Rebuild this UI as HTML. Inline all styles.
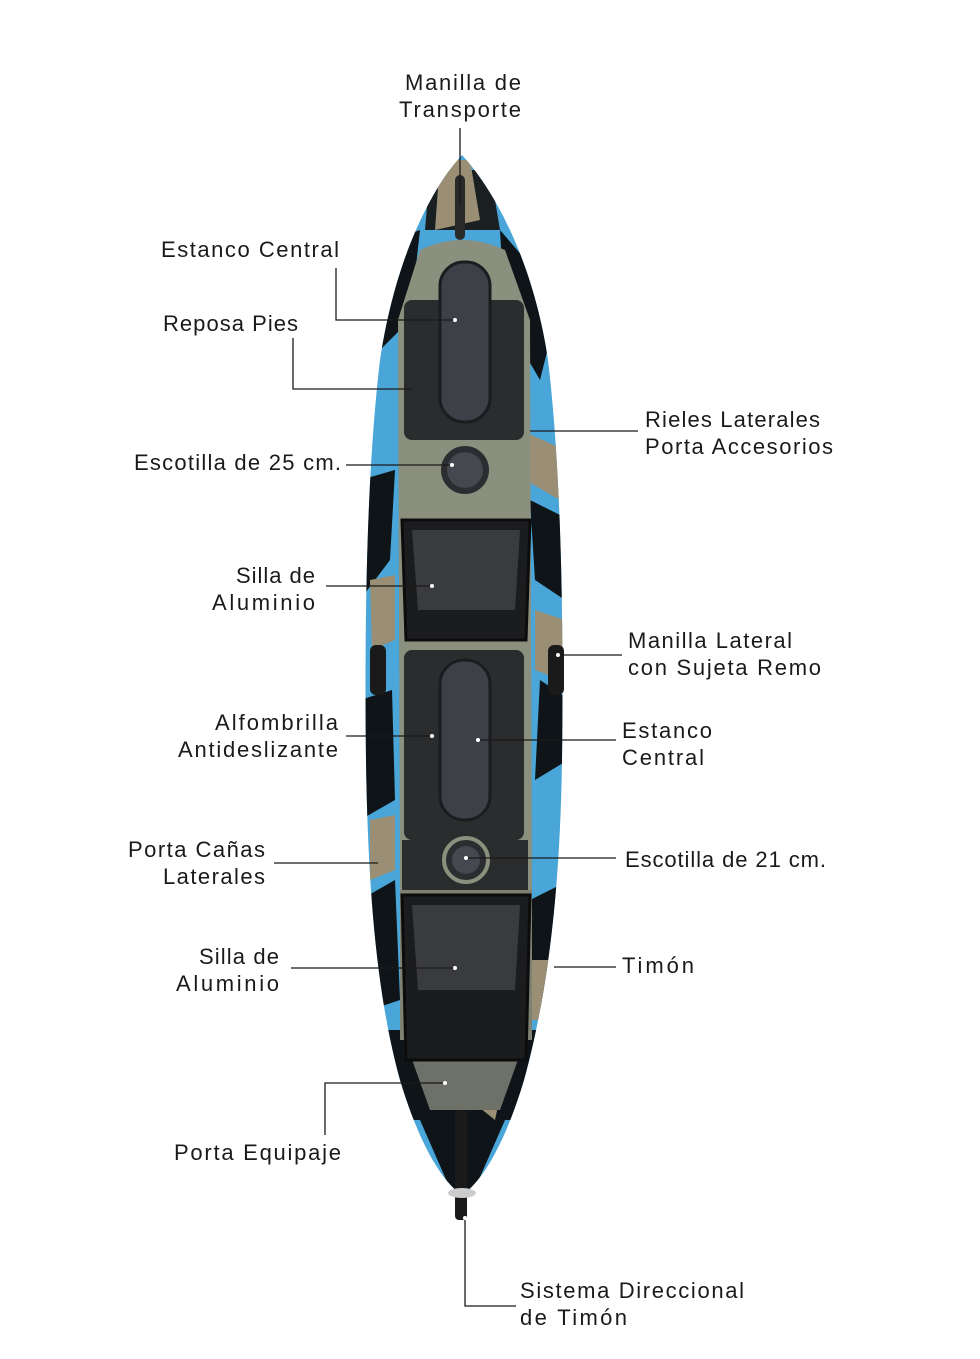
<!DOCTYPE html>
<html><head><meta charset="utf-8"><style>
html,body{margin:0;padding:0;background:#fff;}
svg{display:block}
text{font-family:"Liberation Sans",sans-serif;font-size:22px;fill:#1a1a1a}
</style></head><body>
<svg width="980" height="1359" viewBox="0 0 980 1359" xmlns="http://www.w3.org/2000/svg">
<defs>
<clipPath id="hull"><path d="M462,155 C430,190 395,260 380,360 C368,460 364,600 366,760 C368,900 378,1000 400,1080 C418,1140 440,1180 462,1195 C484,1180 506,1140 524,1080 C546,1000 560,900 562,760 C564,600 560,460 548,360 C533,260 494,190 462,155Z"/></clipPath>
</defs>
<g clip-path="url(#hull)">
<rect x="350" y="150" width="230" height="1060" fill="#4aa6d8"/>
<g fill="#0e1418">
<path d="M365,250 L420,230 L410,320 L370,360Z"/>
<path d="M500,230 L560,300 L540,380 L505,320Z"/>
<path d="M360,480 L395,470 L390,560 L360,600Z"/>
<path d="M530,500 L570,520 L565,600 L535,580Z"/>
<path d="M360,700 L392,690 L395,800 L360,820Z"/>
<path d="M540,680 L570,700 L568,760 L535,780Z"/>
<path d="M360,900 L395,880 L400,1000 L370,1010Z"/>
<path d="M530,900 L570,880 L565,1000 L525,1010Z"/>
<path d="M380,1030 L540,1030 L520,1120 L400,1120Z"/>
<path d="M420,1120 L505,1120 L470,1200 L455,1200Z"/>
<path d="M430,170 L490,170 L500,230 L425,230Z" fill="#1a1f22"/>
</g>
<g fill="#9a8f74">
<path d="M440,160 L470,160 L480,220 L435,230Z"/>
<path d="M520,430 L565,450 L560,500 L525,480Z"/>
<path d="M370,580 L395,575 L395,640 L372,650Z"/>
<path d="M535,610 L565,620 L562,680 L535,670Z"/>
<path d="M370,820 L395,815 L395,870 L370,880Z"/>
<path d="M530,960 L560,960 L555,1020 L530,1020Z"/>
<path d="M470,1040 L510,1050 L495,1120 L470,1100Z"/>
</g>
</g>
<path d="M420,250 Q462,230 505,250 L530,320 L532,890 L400,890 L398,320Z" fill="#8b8f7d"/>
<rect x="400" y="890" width="132" height="150" fill="#7f8172"/>
<path d="M405,1040 L525,1040 L500,1110 L430,1110Z" fill="#6e7168"/>
<rect x="404" y="300" width="120" height="140" rx="8" fill="#2a2c2e"/>
<rect x="404" y="650" width="120" height="190" rx="8" fill="#2a2c2e"/>
<rect x="402" y="840" width="126" height="50" fill="#2a2c2e"/>
<rect x="440" y="262" width="50" height="160" rx="24" fill="#3d4047" stroke="#1b1c1f" stroke-width="3"/>
<rect x="440" y="660" width="50" height="160" rx="24" fill="#3d4047" stroke="#1b1c1f" stroke-width="3"/>
<circle cx="465" cy="470" r="26" fill="#2b2d31" stroke="#8b8f7d" stroke-width="4"/>
<circle cx="465" cy="470" r="18" fill="#45484f"/>
<circle cx="466" cy="860" r="22" fill="#2b2d31" stroke="#8b8f7d" stroke-width="4"/>
<circle cx="466" cy="860" r="14" fill="#45484f"/>
<path d="M402,520 L530,520 L526,640 L406,640Z" fill="#1b1c1e" stroke="#0c0c0d" stroke-width="3"/>
<path d="M412,530 L520,530 L515,610 L418,610Z" fill="#3a3b3e"/>
<path d="M402,895 L530,895 L526,1060 L406,1060Z" fill="#1b1c1e" stroke="#0c0c0d" stroke-width="3"/>
<path d="M412,905 L520,905 L515,990 L418,990Z" fill="#3a3b3e"/>
<rect x="370" y="645" width="16" height="50" rx="6" fill="#1a1a1a"/>
<rect x="548" y="645" width="16" height="50" rx="6" fill="#1a1a1a"/>
<rect x="455" y="175" width="10" height="65" rx="5" fill="#2a2a2a"/>
<rect x="455" y="1110" width="12" height="110" rx="4" fill="#1a1a1a"/>
<ellipse cx="462" cy="1193" rx="14" ry="5" fill="#ccc"/>
<g stroke="#1a1a1a" stroke-width="1.3" fill="none">
<path d="M460,128 V205"/>
<path d="M336,268 V320 H455"/>
<path d="M293,338 V389 H412"/>
<path d="M346,465 H452"/>
<path d="M530,431 H638"/>
<path d="M326,586 H432"/>
<path d="M558,655 H622"/>
<path d="M346,736 H432"/>
<path d="M478,740 H616"/>
<path d="M274,863 H378"/>
<path d="M466,858 H616"/>
<path d="M291,968 H455"/>
<path d="M552,967 H616"/>
<path d="M325,1135 V1083 H445"/>
<path d="M465,1218 V1306 H516"/>
</g>
<g fill="#fff"><circle cx="455" cy="320" r="2"/><circle cx="452" cy="465" r="2"/><circle cx="432" cy="586" r="2"/><circle cx="432" cy="736" r="2"/><circle cx="478" cy="740" r="2"/><circle cx="466" cy="858" r="2"/><circle cx="455" cy="968" r="2"/><circle cx="552" cy="967" r="2"/><circle cx="445" cy="1083" r="2"/><circle cx="465" cy="1218" r="2"/><circle cx="558" cy="655" r="2"/></g>
<text x="405" y="90" textLength="116">Manilla de</text>
<text x="399" y="117" textLength="122">Transporte</text>
<text x="161" y="257" textLength="178">Estanco Central</text>
<text x="163" y="331" textLength="135">Reposa Pies</text>
<text x="134" y="470" textLength="207">Escotilla de 25 cm.</text>
<text x="645" y="427" textLength="175">Rieles Laterales</text>
<text x="645" y="454" textLength="188">Porta Accesorios</text>
<text x="236" y="583" textLength="79">Silla de</text>
<text x="212" y="610" textLength="103">Aluminio</text>
<text x="628" y="648" textLength="164">Manilla Lateral</text>
<text x="628" y="675" textLength="193">con Sujeta Remo</text>
<text x="215" y="730" textLength="123">Alfombrilla</text>
<text x="178" y="757" textLength="160">Antideslizante</text>
<text x="622" y="738" textLength="90">Estanco</text>
<text x="622" y="765" textLength="82">Central</text>
<text x="128" y="857" textLength="137">Porta Cañas</text>
<text x="163" y="884" textLength="102">Laterales</text>
<text x="625" y="867" textLength="201">Escotilla de 21 cm.</text>
<text x="199" y="964" textLength="80">Silla de</text>
<text x="176" y="991" textLength="103">Aluminio</text>
<text x="622" y="973" textLength="72">Timón</text>
<text x="174" y="1160" textLength="167">Porta Equipaje</text>
<text x="520" y="1298" textLength="224">Sistema Direccional</text>
<text x="520" y="1325" textLength="107">de Timón</text>
</svg>
</body></html>
